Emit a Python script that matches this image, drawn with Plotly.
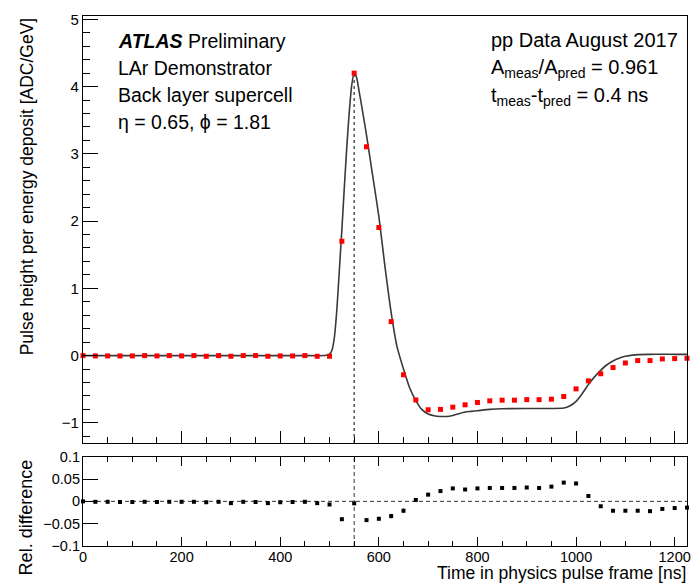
import plotly.graph_objects as go

# ---------------- data ----------------
times = [0, 25, 50, 75, 100, 125, 150, 175, 200, 225, 250, 275, 300, 325, 350, 375,
         400, 425, 450, 475, 500, 525, 550, 575, 600, 625, 650, 675, 700, 725, 750,
         775, 800, 825, 850, 875, 900, 925, 950, 975, 1000, 1025, 1050, 1075, 1100,
         1125, 1150, 1175, 1200, 1225]

data_pulse = [0.0, -0.005, -0.005, -0.005, -0.005, 0.0, -0.005, 0.0, -0.005, 0.0,
              -0.01, 0.0, -0.01, 0.0, 0.0, -0.01, -0.005, -0.005, 0.0, -0.01,
              -0.01, 1.70, 4.20, 3.105, 1.905, 0.505, -0.285, -0.66, -0.806, -0.80,
              -0.767, -0.732, -0.697, -0.673, -0.663, -0.663, -0.655, -0.655, -0.648, -0.608,
              -0.495, -0.376, -0.27, -0.178, -0.11, -0.074, -0.074, -0.05, -0.045, -0.04]

rel_diff = [0.0, -0.001, -0.001, -0.0015, -0.0015, -0.001, -0.0015, -0.001, -0.001, -0.001,
            -0.002, -0.001, -0.004, -0.001, -0.0015, -0.004, -0.002, -0.0015, -0.001, -0.004,
            -0.007, -0.040, -0.0045, -0.042, -0.039, -0.033, -0.021, 0.003, 0.015, 0.023,
            0.029, 0.0265, 0.029, 0.030, 0.030, 0.030, 0.031, 0.030, 0.033, 0.042,
            0.040, 0.012, -0.011, -0.021, -0.021, -0.021, -0.022, -0.017, -0.015, -0.014]

rel_err = [0.001, 0.001, 0.001, 0.001, 0.001, 0.001, 0.001, 0.001, 0.001, 0.001,
           0.001, 0.001, 0.001, 0.001, 0.001, 0.001, 0.001, 0.001, 0.001, 0.001,
           0.001, 0.003, 0.001, 0.002, 0.004, 0.005, 0.005, 0.002, 0.001, 0.001,
           0.001, 0.001, 0.001, 0.001, 0.001, 0.001, 0.001, 0.001, 0.001, 0.001,
           0.001, 0.001, 0.001, 0.001, 0.001, 0.001, 0.001, 0.001, 0.001, 0.001]

pred_t = [0, 100, 200, 300, 400, 450, 490, 500, 505, 510, 515, 520, 525, 530, 535, 540,
          545, 550, 555, 560, 565, 570, 575, 587, 600, 612, 625, 637, 650, 662, 675, 687,
          700, 712, 725, 737, 750, 762, 775, 787, 800, 825, 850, 900, 950, 975, 987, 1000,
          1012, 1025, 1037, 1050, 1062, 1075, 1087, 1100, 1125, 1150, 1175, 1200, 1225]
pred_v = [0.0, 0.0, 0.0, 0.0, 0.0, 0.0, 0.0, 0.02, 0.08, 0.28, 0.70, 1.28, 1.87, 2.50, 3.10, 3.62,
          4.02, 4.21, 4.13, 3.93, 3.72, 3.50, 3.28, 2.70, 2.07, 1.35, 0.64, 0.13, -0.20, -0.47, -0.67, -0.80,
          -0.87, -0.895, -0.905, -0.905, -0.89, -0.865, -0.84, -0.83, -0.82, -0.80, -0.79, -0.787, -0.787, -0.78, -0.75, -0.68,
          -0.57, -0.43, -0.32, -0.22, -0.14, -0.08, -0.04, -0.01, 0.014, 0.018, 0.02, 0.018, 0.018]

x_ticks = [0, 200, 400, 600, 800, 1000, 1200]
rel_ticks = [-0.1, -0.05, 0, 0.05, 0.1]

# ---------------- geometry helpers ----------------
W, H = 698, 584
L, R, T, B = 83, 7, 16, 38
PW, PH = W - L - R, H - T - B


def px_x(px):
    return (px - L) / PW


def px_y(py):
    return (H - B - py) / PH


FONT = "Liberation Sans, Arial, Helvetica, sans-serif"

fig = go.Figure()

# prediction curve
fig.add_trace(go.Scatter(x=pred_t, y=pred_v, mode="lines",
                         line=dict(color="#3a3a3a", width=1.6, shape="spline", smoothing=0.6),
                         xaxis="x", yaxis="y", showlegend=False, hoverinfo="skip"))
# data points
fig.add_trace(go.Scatter(x=times, y=data_pulse, mode="markers",
                         marker=dict(symbol="square", size=5, color="#ff0000"),
                         xaxis="x", yaxis="y", showlegend=False, cliponaxis=False))
# relative difference
fig.add_trace(go.Scatter(x=times, y=rel_diff, mode="markers",
                         marker=dict(symbol="square", size=4, color="black"),
                         error_y=dict(type="data", array=rel_err, color="black", thickness=1, width=0),
                         xaxis="x2", yaxis="y2", showlegend=False, cliponaxis=False))

peak_i = max(range(len(data_pulse)), key=lambda i: data_pulse[i])
t_peak, v_peak = times[peak_i], data_pulse[peak_i]

y_top_range = [-1.3, 5.05]
shapes = [
    dict(type="line", xref="x", yref="y", x0=t_peak, x1=t_peak, y0=y_top_range[0], y1=v_peak,
         line=dict(color="#555555", width=1.5, dash="3px,3px"), layer="below"),
    dict(type="line", xref="x2", yref="y2", x0=t_peak, x1=t_peak, y0=rel_ticks[0], y1=rel_ticks[-1],
         line=dict(color="#333333", width=1, dash="4px,3px"), layer="below"),
    dict(type="line", xref="x2", yref="y2", x0=times[0], x1=times[-1], y0=0, y1=0,
         line=dict(color="#333333", width=1, dash="4px,3px"), layer="below"),
]

top_dom = [px_y(443), 1.0]
bot_dom = [0.0, px_y(456.7)]

axis_common = dict(showgrid=False, zeroline=False, showline=True, linecolor="black", linewidth=1.2)

fig.update_layout(
    width=W, height=H,
    margin=dict(l=L, r=R, t=T, b=B, pad=0),
    paper_bgcolor="white", plot_bgcolor="white",
    font=dict(family=FONT, color="black"),
    shapes=shapes,
    xaxis=dict(domain=[0, 1], anchor="y", range=[0, 1225], tickvals=x_ticks, showticklabels=False,
               ticks="inside", ticklen=12, tickcolor="black", mirror=True,
               minor=dict(ticks="inside", dtick=50, tick0=0, ticklen=6, tickcolor="black"),
               **axis_common),
    yaxis=dict(domain=top_dom, anchor="x", range=y_top_range, dtick=1, tick0=0,
               ticks="inside", ticklen=15, tickcolor="black", mirror=True,
               tickfont=dict(size=15), ticklabelstandoff=0,
               minor=dict(ticks="inside", dtick=0.2, tick0=0, ticklen=7, tickcolor="black"),
               **axis_common),
    xaxis2=dict(domain=[0, 1], anchor="y2", range=[0, 1225], tickvals=x_ticks,
                ticks="inside", ticklen=9, tickcolor="black", mirror="ticks",
                tickfont=dict(size=14.5), ticklabelstandoff=-3,
                minor=dict(ticks="inside", dtick=50, tick0=0, ticklen=5, tickcolor="black"),
                **axis_common),
    yaxis2=dict(domain=bot_dom, anchor="x2", range=[rel_ticks[0], rel_ticks[-1]], tickvals=rel_ticks,
                ticks="inside", ticklen=15, tickcolor="black", mirror=True,
                tickfont=dict(size=14.5), ticklabelstandoff=-1,
                **axis_common),
)

ann = []
# axis titles
ann.append(dict(text="Pulse height per energy deposit [ADC/GeV]", textangle=-90,
                x=px_x(27), y=px_y(15), xanchor="center", yanchor="top",
                font=dict(size=17.5)))
ann.append(dict(text="Rel. difference", textangle=-90,
                x=px_x(26), y=px_y(457), xanchor="center", yanchor="top",
                font=dict(size=18)))
ann.append(dict(text="Time in physics pulse frame [ns]",
                x=px_x(692), y=px_y(573), xanchor="right", yanchor="middle",
                font=dict(size=17.5)))
# left text block
left_lines = ["<b><i>ATLAS</i></b> Preliminary", "LAr Demonstrator",
              "Back layer supercell", "η = 0.65, ϕ = 1.81"]
for i, t in enumerate(left_lines):
    ann.append(dict(text=t, x=px_x(116), y=px_y(41 + 27 * i), xanchor="left", yanchor="middle",
                    font=dict(size=19.5)))
# right text block
right_lines = ["pp Data August 2017",
               "A<sub>meas</sub>/A<sub>pred</sub> = 0.961",
               "t<sub>meas</sub>-t<sub>pred</sub> = 0.4 ns"]
right_y = [39.5, 69, 96.5]
for t, yy in zip(right_lines, right_y):
    ann.append(dict(text=t, x=px_x(492), y=px_y(yy), xanchor="left", yanchor="middle",
                    font=dict(size=20)))

for a in ann:
    a.update(xref="paper", yref="paper", showarrow=False)
fig.update_layout(annotations=ann)

fig.write_html("out.html", config={"displayModeBar": False},
               post_script="document.body.style.margin='0px';document.body.style.overflow='hidden';")
